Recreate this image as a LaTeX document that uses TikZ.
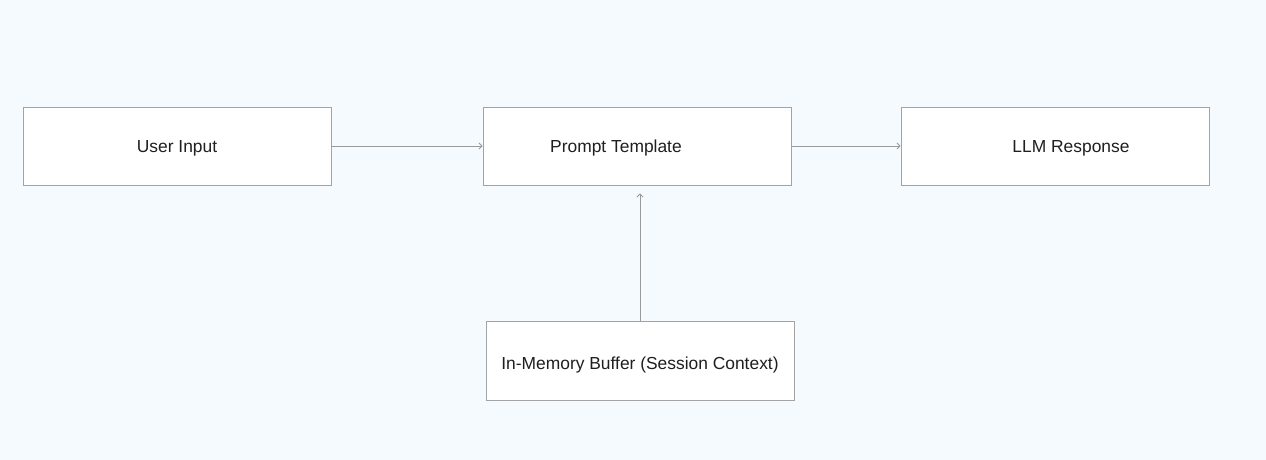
\documentclass[tikz,border=0pt]{standalone}
\usepackage{fontspec}
\setmainfont{Liberation Sans}
\usetikzlibrary{arrows.meta}
\definecolor{bgblue}{HTML}{F5FAFF}
\definecolor{boxline}{HTML}{A3A3A3}
\definecolor{wireline}{HTML}{9A9A9A}
\definecolor{inktext}{HTML}{1F1F1F}
\tikzset{
	stagebox/.style={draw=boxline, fill=white, line width=0.9pt, minimum width=308pt, minimum height=78pt, inner sep=0pt},
	stagetext/.style={font=\fontsize{17.4}{20}\selectfont, text=inktext, yshift=-2.5pt},
	wire/.style={draw=wireline, line width=0.9pt, -{Straight Barb[length=3pt,width=6pt]}}
}

\begin{document}
\begin{tikzpicture}[x=1pt, y=-1pt]
		%%%%% START %%%%%
		\fill[bgblue] (0, 0) rectangle (1266, 460);
		\useasboundingbox (0, 0) rectangle (1266, 460);
		
		\node[stagebox, label={[stagetext]center:User Input}] (input) at (177, 146) {};
		\node[stagebox, label={[stagetext, xshift=-21pt]center:Prompt Template}] (prompt) at (637, 146) {};
		\node[stagebox, label={[stagetext, xshift=16pt]center:LLM Response}] (llm) at (1055, 146) {};
		\node[stagebox, minimum height=79pt, label={[stagetext, yshift=-2pt]center:In-Memory Buffer (Session Context)}] (buffer) at (640, 360.5) {};
		
		\draw[wire] (input.east) -- (prompt.west);
		\draw[wire] (prompt.east) -- (llm.west);
		\draw[wire] (buffer.north) -- ([yshift=-8pt]buffer.north |- prompt.south);
		%%%%% END %%%%%
	\end{tikzpicture}
\end{document}
